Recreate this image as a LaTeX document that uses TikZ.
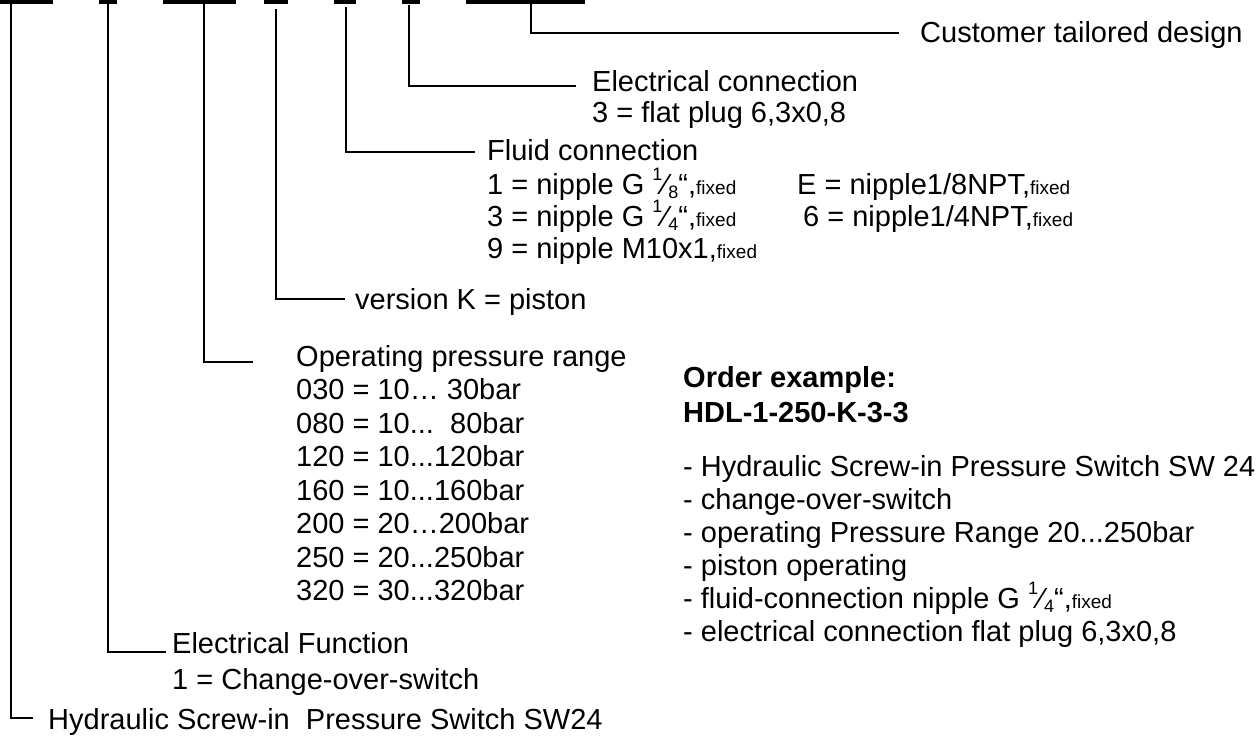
\documentclass[tikz,border=0pt]{standalone}
\usepackage{fontspec}
\setmainfont{Liberation Sans}
\newcommand{\fx}{{\fontsize{19}{19}\selectfont fixed}}
\newcommand{\frc}[2]{\raisebox{0.46em}{\fontsize{18}{18}\selectfont #1}\kern0.02em⁄\kern0.02em\raisebox{-0.16em}{\fontsize{18}{18}\selectfont #2}}
\begin{document}
\begin{tikzpicture}[x=1pt,y=-1pt,
  txt/.style={anchor=base west, inner sep=0pt, font=\fontsize{29}{33}\selectfont},
  bold/.style={txt, font=\fontsize{29}{33}\selectfont\bfseries},
  bar/.style={fill=black, draw=none, inner sep=0pt, minimum height=3.4pt, anchor=north west},
  conn/.style={draw=black, line width=1.3pt}]
\useasboundingbox (0,0) rectangle (1258,742);
% code bars
\node[bar, minimum width=53pt] (b1) at (0,0) {};
\node[bar, minimum width=18pt] (b2) at (99,0) {};
\node[bar, minimum width=73pt] (b3) at (163,0) {};
\node[bar, minimum width=24pt] (b4) at (264,0) {};
\node[bar, minimum width=22pt] (b5) at (334,0) {};
\node[bar, minimum width=18pt] (b6) at (402,0) {};
\node[bar, minimum width=119pt] (b7) at (466,0) {};
% connector points
\coordinate (v1) at (11,0);   \coordinate (h1) at (33,718);
\coordinate (v2) at (108,0);  \coordinate (h2) at (166,652);
\coordinate (v3) at (204,0);  \coordinate (h3) at (253,362);
\coordinate (v4) at (276,9);  \coordinate (h4) at (345,299);
\coordinate (v5) at (346,7);  \coordinate (h5) at (475,152);
\coordinate (v6) at (409,5);  \coordinate (h6) at (576,86);
\coordinate (v7) at (531,0);  \coordinate (h7) at (899,33);
\draw[conn] (v1) |- (h1);
\draw[conn] (v2) |- (h2);
\draw[conn] (v3) |- (h3);
\draw[conn] (v4) |- (h4);
\draw[conn] (v5) |- (h5);
\draw[conn] (v6) |- (h6);
\draw[conn] (v7) |- (h7);
% labels
\node[txt] (t7) at (920,42) {Customer tailored design};
\node[txt] (t6a) at (592,91) {Electrical connection};
\node[txt] (t6b) at (592,122) {3 = flat plug 6,3x0,8};
\node[txt] (t5a) at (487,160) {Fluid connection};
\node[txt] (t5b) at (487,194) {1 = nipple G \frc{1}{8}“,\fx};
\node[txt] (t5c) at (487,226) {3 = nipple G \frc{1}{4}“,\fx};
\node[txt] (t5d) at (487,258) {9 = nipple M10x1,\fx};
\node[txt] (t5e) at (797,194) {E = nipple1/8NPT,\fx};
\node[txt] (t5f) at (803,226) {6 = nipple1/4NPT,\fx};
\node[txt] (t4) at (355,309) {version K = piston};
\node[txt] (t3a) at (296,366) {Operating pressure range};
\node[txt] (t3b) at (296,399.5) {030 = 10… 30bar};
\node[txt] (t3c) at (296,433) {080 = 10...\ \ 80bar};
\node[txt] (t3d) at (296,466.5) {120 = 10...120bar};
\node[txt] (t3e) at (296,500) {160 = 10...160bar};
\node[txt] (t3f) at (296,533.5) {200 = 20…200bar};
\node[txt] (t3g) at (296,567) {250 = 20...250bar};
\node[txt] (t3h) at (296,600.5) {320 = 30...320bar};
\node[txt] (t2a) at (172,653) {Electrical Function};
\node[txt] (t2b) at (172,689) {1 = Change-over-switch};
\node[txt] (t1) at (48,729) {Hydraulic Screw-in\ \ Pressure Switch SW24};
% order example
\node[bold] (o1) at (683,387) {Order example:};
\node[bold] (o2) at (683,422) {HDL-1-250-K-3-3};
\node[txt] (o3) at (683,476) {- Hydraulic Screw-in Pressure Switch SW 24};
\node[txt] (o4) at (683,509) {- change-over-switch};
\node[txt] (o5) at (683,542) {- operating Pressure Range 20...250bar};
\node[txt] (o6) at (683,575) {- piston operating};
\node[txt] (o7) at (683,608) {- fluid-connection nipple G \frc{1}{4}“,\fx};
\node[txt] (o8) at (683,641) {- electrical connection flat plug 6,3x0,8};
\end{tikzpicture}
\end{document}
